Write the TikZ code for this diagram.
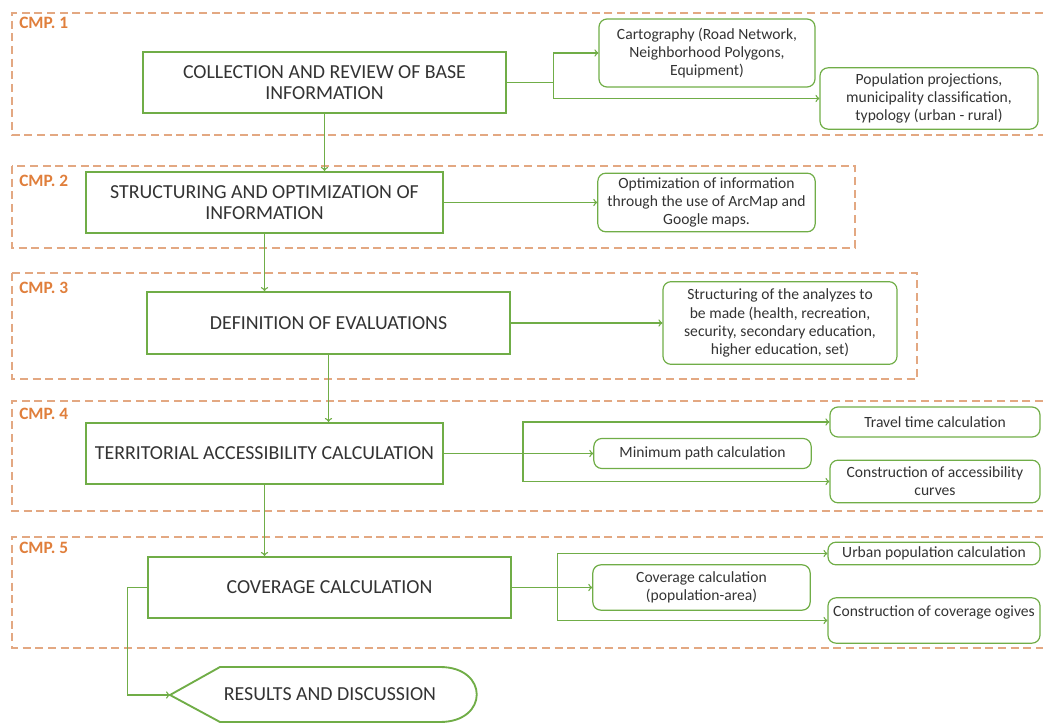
\documentclass[tikz,border=0pt]{standalone}
\usepackage{fontspec}
\setmainfont{Carlito}
\usepackage{tikz}
\definecolor{boxgreen}{HTML}{70AD47}
\definecolor{cmporange}{HTML}{E3A882}
\definecolor{cmptext}{HTML}{E07F3C}
\definecolor{textgray}{HTML}{333333}

\begin{document}
\begin{tikzpicture}[x=0.75pt,y=-0.75pt,
    mainbox/.style={draw=boxgreen, line width=1.4pt, align=center, text=textgray,
        font=\fontsize{14.9}{16.3}\selectfont, inner sep=0pt},
    sidebox/.style={draw=boxgreen, line width=0.9pt, rounded corners=6pt, align=center,
        text=textgray, font=\fontsize{11.7}{13.6}\selectfont, inner sep=0pt},
    cmpzone/.style={draw=cmporange, line width=0.8pt, dash pattern=on 6pt off 3.5pt},
    cmplabel/.style={text=cmptext, anchor=west, inner sep=0pt,
        font=\bfseries\fontsize{13}{14}\selectfont},
    link/.style={draw=boxgreen, line width=1pt, ->}]
                \useasboundingbox (0,0) rectangle (1043,723);
                % dashed zones
                \draw[cmpzone] (1043,13) -- (12,13) -- (12,135) -- (1043,135);
                \draw[cmpzone] (12,166) rectangle (855,248);
                \draw[cmpzone] (12,273) rectangle (917,379);
                \draw[cmpzone] (1043,401) -- (12,401) -- (12,511) -- (1043,511);
                \draw[cmpzone] (1043,537) -- (12,537) -- (12,648) -- (1043,648);
                \node[cmplabel] (lab1) at (19,23) {CMP. 1};
                \node[cmplabel] (lab2) at (19,181) {CMP. 2};
                \node[cmplabel] (lab3) at (19,288) {CMP. 3};
                \node[cmplabel] (lab4) at (19,414) {CMP. 4};
                \node[cmplabel] (lab5) at (19,548) {CMP. 5};
                % main steps
                \node[mainbox, minimum width=272pt, minimum height=46pt] (base) at (324.5,82.5)
                    {COLLECTION AND REVIEW OF BASE\\INFORMATION};
                \node[mainbox, minimum width=268pt, minimum height=46pt] (struct) at (264.5,202.5)
                    {STRUCTURING AND OPTIMIZATION OF\\INFORMATION};
                \node[mainbox, minimum width=272pt, minimum height=46.5pt] (defin) at (328.5,323)
                    {DEFINITION OF EVALUATIONS};
                \node[mainbox, minimum width=268pt, minimum height=46pt] (access) at (264.5,453.5)
                    {TERRITORIAL ACCESSIBILITY CALCULATION};
                \node[mainbox, minimum width=272pt, minimum height=46pt] (cover) at (329.5,587.5)
                    {COVERAGE CALCULATION};
                % side boxes
                \node[sidebox, minimum width=162pt, minimum height=51pt] (carto) at (707,53)
                    {Cartography (Road Network,\\Neighborhood Polygons,\\Equipment)};
                \node[sidebox, minimum width=163.5pt, minimum height=46pt] (popul) at (929,98.5)
                    {Population projections,\\municipality classification,\\typology (urban - rural)};
                \node[sidebox, minimum width=163pt, minimum height=44pt] (optim) at (706.5,202.5)
                    {Optimization of information\\through the use of ArcMap and\\Google maps.};
                \node[sidebox, minimum width=175.5pt, minimum height=62pt] (analy) at (780,323)
                    {Structuring of the analyzes to\\be made (health, recreation,\\security, secondary education,\\higher education, set)};
                \node[sidebox, minimum width=157.5pt, minimum height=22.5pt] (travel) at (935,422)
                    {Travel time calculation};
                \node[sidebox, minimum width=163pt, minimum height=22.5pt] (minpath) at (702.5,453.5)
                    {Minimum path calculation};
                \node[sidebox, minimum width=157.5pt, minimum height=32pt] (curves) at (935,481.5)
                    {Construction of accessibility\\curves};
                \node[sidebox, minimum width=159pt, minimum height=17pt] (urban) at (934,553.5)
                    {Urban population calculation};
                \node[sidebox, minimum width=163pt, minimum height=34pt] (popar) at (701.5,587.5)
                    {Coverage calculation\\(population-area)};
                \node[sidebox, minimum width=159pt, minimum height=34pt] (ogive) at (934,620.5)
                    {Construction of coverage ogives\\\mbox{}};
                % result
                \node[text=textgray, font=\fontsize{14.9}{16.3}\selectfont] (result) at (330,694)
                    {RESULTS AND DISCUSSION};
                \coordinate (resin) at (170,695);
                \draw[draw=boxgreen, line width=1.4pt] (resin) -- (220,667) -- (440,667)
                    .. controls (489,667) and (489,722) .. (440,722) -- (220,722) -- cycle;
                % connectors
                \draw[link] (base.south) -- (base.south |- struct.north);
                \draw[link] (struct.south) -- (struct.south |- defin.north);
                \draw[link] (defin.south) -- (defin.south |- access.north);
                \draw[link] (access.south) -- (access.south |- cover.north);
                \draw[link] (base.east) -- ++(47,0) |- (carto.west);
                \draw[link] (base.east) -- ++(47,0) |- (popul.west);
                \draw[link] (struct.east) -- (optim.west);
                \draw[link] (defin.east) -- (analy.west);
                \draw[link] (access.east) -- ++(79,0) |- (travel.west);
                \draw[link] (access.east) -- (minpath.west);
                \draw[link] (access.east) -- ++(79,0) |- (curves.west);
                \draw[link] (cover.east) -- ++(46,0) |- (urban.west);
                \draw[link] (cover.east) -- (popar.west);
                \draw[link] (cover.east) -- ++(46,0) |- (ogive.west);
                \draw[link] (cover.west) -- ++(-20,0) |- (resin);
            \end{tikzpicture}
\end{document}
